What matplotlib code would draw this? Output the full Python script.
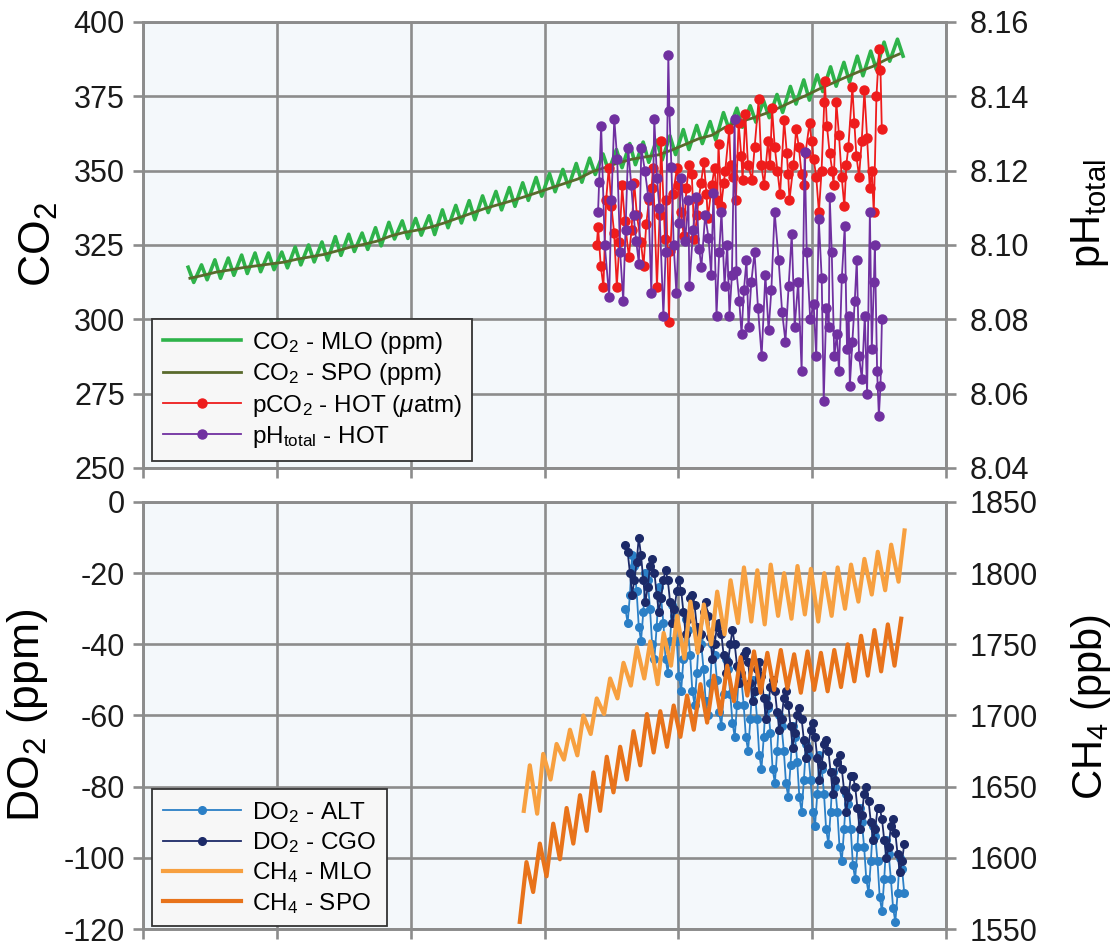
import matplotlib
matplotlib.use('Agg')
import matplotlib.pyplot as plt
import numpy as np

plt.rcParams['font.family'] = ['Liberation Sans', 'DejaVu Sans']
plt.rcParams['mathtext.fontset'] = 'custom'
plt.rcParams['mathtext.rm'] = 'Liberation Sans'
plt.rcParams['mathtext.it'] = 'Liberation Sans:italic'
plt.rcParams['mathtext.bf'] = 'Liberation Sans:bold'
plt.rcParams['axes.unicode_minus'] = False

# ---- CO2 Mauna Loa: yearly spring peak and autumn trough (ppm)
mlo_years = list(range(1958, 2012))
mlo_peak = [317.5, 318.3, 320.0, 320.6, 321.6, 322.3, 322.3, 322.6, 324.3, 325.0,
            326.0, 327.8, 328.6, 329.0, 330.8, 332.6, 333.1, 333.9, 334.8, 336.8,
            338.3, 339.9, 341.5, 343.0, 344.3, 345.9, 347.7, 349.0, 350.4, 352.4,
            354.2, 355.6, 357.1, 359.1, 359.6, 360.2, 361.7, 363.8, 365.2, 366.5,
            369.5, 371.0, 371.8, 373.5, 375.6, 378.3, 380.5, 382.2, 384.9, 386.4,
            388.5, 390.2, 393.2, 394.2]
mlo_trough = [312.4, 313.3, 313.8, 314.8, 315.4, 316.0, 316.7, 317.3, 318.3, 319.3,
              319.9, 321.5, 322.8, 323.5, 324.7, 327.0, 327.2, 328.3, 328.5, 330.8,
              332.4, 333.5, 335.9, 336.8, 338.0, 340.0, 341.4, 342.9, 344.5, 346.1,
              348.7, 349.9, 351.0, 352.0, 352.8, 353.6, 355.4, 357.1, 359.1, 360.3,
              363.9, 364.6, 366.3, 367.8, 369.6, 372.4, 373.7, 376.6, 378.4, 379.8,
              381.9, 384.0, 386.8, 388.5]

# ---- CO2 South Pole, yearly (ppm)
spo_years = list(range(1958, 2012))
spo_co2 = [313.8, 314.8, 315.9, 316.6, 317.4, 318.0, 318.6, 319.2, 320.2, 321.0,
           321.8, 323.0, 324.3, 325.2, 326.3, 328.0, 329.2, 330.0, 331.0, 332.4,
           334.0, 335.6, 337.2, 338.5, 339.8, 341.2, 342.7, 344.2, 345.7, 347.2,
           349.5, 351.0, 352.6, 353.8, 354.6, 355.3, 356.9, 358.8, 360.7, 361.9,
           364.6, 366.4, 367.6, 369.2, 371.1, 373.2, 375.2, 377.4, 379.4, 381.4,
           383.3, 385.0, 387.3, 389.2]

# ---- HOT seawater pCO2 (uatm)
hot_pco2_t = [1988.9, 1989.0, 1989.2, 1989.4, 1989.6, 1989.8, 1990.0, 1990.2, 1990.4, 1990.6,
              1990.8, 1991.0, 1991.3, 1991.5, 1991.7, 1991.9, 1992.2, 1992.4, 1992.6, 1992.8,
              1993.0, 1993.1, 1993.4, 1993.6, 1993.7, 1994.0, 1994.1, 1994.3, 1994.4, 1994.6,
              1994.9, 1995.0, 1995.2, 1995.4, 1995.6, 1995.8, 1996.0, 1996.2, 1996.4, 1996.5,
              1996.7, 1996.9, 1997.1, 1997.2, 1997.5, 1997.7, 1997.9, 1998.0, 1998.2, 1998.4,
              1998.5, 1998.8, 1998.9, 1999.1, 1999.3, 1999.5, 1999.7, 1999.8, 2000.0, 2000.2,
              2000.5, 2000.7, 2001.0, 2001.2, 2001.4, 2001.7, 2001.85, 2002.0, 2002.2, 2002.4,
              2002.6, 2002.9, 2003.1, 2003.2, 2003.3, 2003.6, 2003.8, 2004.0, 2004.2, 2004.4,
              2004.5, 2004.8, 2004.95, 2005.1, 2005.3, 2005.5, 2005.7, 2005.9, 2005.95, 2006.1,
              2006.3, 2006.5, 2006.6, 2006.8, 2007.0, 2007.2, 2007.4, 2007.55, 2007.7, 2008.0,
              2008.15, 2008.3, 2008.5, 2008.7, 2008.9, 2009.1, 2009.3, 2009.45, 2009.6, 2009.8,
              2010.0, 2010.1, 2010.2]
hot_pco2 = [325, 331, 318, 311, 340, 351, 338, 329, 311, 326,
            345, 333, 321, 330, 346, 335, 326, 318, 332, 340,
            344, 351, 311, 335, 360, 327, 340, 299, 323, 342,
            351, 345, 336, 328, 344, 352, 349, 327, 335, 340,
            346, 353, 342, 334, 345, 351, 340, 359, 338, 346,
            350, 364, 352, 348, 340, 366, 355, 347, 369, 352,
            347, 358, 374, 352, 345, 360, 352, 371, 358, 350,
            342, 367, 356, 349, 340, 352, 364, 358, 349, 345,
            356, 366, 360, 354, 348, 336, 350, 373, 380, 365,
            356, 350, 345, 373, 362, 348, 338, 352, 358, 378,
            366, 355, 348, 360, 377, 361, 344, 350, 336, 375,
            391, 384, 364]

# ---- HOT pH (total scale)
hot_ph_t = [1989.0, 1989.08, 1989.23, 1989.5, 1989.83, 1990.0, 1990.21, 1990.43, 1990.65, 1990.88,
            1991.05, 1991.25, 1991.48, 1991.65, 1991.85, 1992.05, 1992.23, 1992.5, 1992.75, 1992.98,
            1993.2, 1993.4, 1993.58, 1993.88, 1994.05, 1994.25, 1994.33, 1994.48, 1994.65, 1994.85,
            1995.05, 1995.22, 1995.5, 1995.75, 1995.82, 1996.1, 1996.35, 1996.55, 1996.72, 1997.0,
            1997.25, 1997.45, 1997.62, 1997.85, 1998.05, 1998.22, 1998.45, 1998.65, 1998.82, 1999.0,
            1999.2, 1999.34, 1999.55, 1999.72, 1999.9, 2000.09, 2000.24, 2000.45, 2000.69, 2000.95,
            2001.22, 2001.5, 2001.74, 2001.95, 2002.19, 2002.49, 2002.75, 2003.0, 2003.24, 2003.47,
            2003.69, 2003.95, 2004.21, 2004.44, 2004.59, 2004.85, 2005.11, 2005.3, 2005.49, 2005.71,
            2005.86, 2006.05, 2006.24, 2006.31, 2006.46, 2006.65, 2006.84, 2007.0, 2007.21, 2007.43,
            2007.6, 2007.73, 2007.81, 2008.0, 2008.18, 2008.33, 2008.5, 2008.71, 2008.93, 2009.1,
            2009.31, 2009.45, 2009.61, 2009.68, 2009.85, 2009.98, 2010.1, 2010.21]
hot_ph = [8.109, 8.117, 8.132, 8.100, 8.086, 8.112, 8.134, 8.123, 8.098, 8.085,
          8.104, 8.126, 8.116, 8.108, 8.101, 8.095, 8.126, 8.120, 8.113, 8.087,
          8.134, 8.118, 8.110, 8.081, 8.098, 8.151, 8.136, 8.121, 8.100, 8.087,
          8.106, 8.118, 8.101, 8.112, 8.089, 8.104, 8.113, 8.099, 8.094, 8.108,
          8.102, 8.092, 8.114, 8.081, 8.098, 8.109, 8.089, 8.100, 8.081, 8.092,
          8.134, 8.093, 8.085, 8.076, 8.088, 8.096, 8.078, 8.090, 8.098, 8.083,
          8.070, 8.092, 8.077, 8.088, 8.109, 8.096, 8.082, 8.074, 8.089, 8.103,
          8.078, 8.090, 8.066, 8.125, 8.098, 8.080, 8.084, 8.070, 8.107, 8.091,
          8.058, 8.083, 8.078, 8.113, 8.098, 8.070, 8.076, 8.066, 8.091, 8.105,
          8.072, 8.081, 8.062, 8.074, 8.085, 8.096, 8.070, 8.064, 8.081, 8.060,
          8.109, 8.072, 8.090, 8.100, 8.066, 8.054, 8.062, 8.080]

# ---- O2 change (ppm), six samples per year
do2_years = list(range(1991, 2012))
do2_cgo = [[-12, -14, -20, -26, -22, -17], [-10, -15, -22, -28, -24, -18],
           [-16, -20, -26, -31, -27, -22], [-19, -22, -28, -34, -30, -25],
           [-22, -25, -31, -37, -33, -27], [-26, -29, -35, -41, -37, -31],
           [-28, -32, -38, -44, -40, -35], [-34, -37, -43, -48, -45, -40],
           [-36, -40, -46, -51, -48, -43], [-42, -45, -51, -56, -53, -47],
           [-45, -49, -55, -61, -57, -52], [-50, -53, -59, -64, -61, -55],
           [-53, -57, -63, -69, -65, -60], [-58, -61, -67, -72, -69, -64],
           [-62, -66, -72, -78, -74, -68], [-67, -70, -76, -82, -78, -73],
           [-71, -75, -81, -87, -83, -77], [-77, -80, -86, -92, -88, -82],
           [-80, -84, -90, -95, -92, -86], [-86, -89, -95, -100, -97, -91],
           [-89, -93, -99, -104, -101, -96]]
do2_alt = [[-30, -34, -26, -15, -18, -25], [-35, -39, -31, -20, -22, -30],
           [-40, -44, -35, -24, -27, -34], [-44, -48, -39, -29, -32, -39],
           [-49, -53, -44, -33, -36, -43], [-53, -57, -48, -38, -40, -47],
           [-56, -60, -51, -40, -43, -50], [-59, -63, -54, -44, -47, -54],
           [-62, -66, -57, -47, -50, -57], [-66, -70, -61, -50, -53, -61],
           [-71, -75, -66, -55, -58, -65], [-75, -79, -70, -60, -63, -70],
           [-79, -83, -74, -63, -66, -73], [-83, -87, -78, -68, -71, -78],
           [-87, -91, -82, -71, -75, -82], [-92, -96, -87, -76, -80, -87],
           [-97, -101, -92, -82, -85, -92], [-102, -106, -97, -86, -90, -97],
           [-106, -110, -101, -91, -94, -101], [-111, -115, -106, -95, -99, -106],
           [-114, -118, -110, -100, -103, -110]]

# ---- CH4 (ppb): yearly [trough, peak]
ch4_years = list(range(1983, 2012))
ch4_mlo = [[1633, 1665], [1631, 1673], [1655, 1680], [1669, 1690], [1672, 1700], [1687, 1712],
           [1701, 1726], [1712, 1737], [1721, 1748], [1726, 1752], [1722, 1758], [1735, 1770],
           [1740, 1780], [1744, 1778], [1750, 1787], [1757, 1795], [1765, 1804], [1766, 1802],
           [1764, 1806], [1770, 1800], [1768, 1805], [1771, 1803], [1766, 1800], [1770, 1804],
           [1775, 1806], [1780, 1810], [1785, 1815], [1788, 1820], [1794, 1830]]
ch4_spo = [[1555, 1597], [1576, 1610], [1587, 1624], [1599, 1635], [1610, 1644], [1619, 1660],
           [1633, 1671], [1646, 1678], [1655, 1689], [1665, 1701], [1674, 1703], [1678, 1707],
           [1685, 1714], [1690, 1722], [1695, 1728], [1701, 1735], [1710, 1741], [1714, 1745],
           [1716, 1744], [1718, 1746], [1719, 1743], [1716, 1745], [1718, 1744], [1717, 1746],
           [1720, 1750], [1724, 1756], [1728, 1760], [1731, 1764], [1735, 1768]]

# sample times within each year
mlo_t = np.column_stack([np.array(mlo_years) + 0.37, np.array(mlo_years) + 0.79]).ravel()
mlo_v = np.column_stack([mlo_peak, mlo_trough]).ravel()
spo_t = np.array(spo_years) + 0.5
do2_t = (np.array(do2_years)[:, None] + np.array([0.04, 0.21, 0.38, 0.54, 0.71, 0.88])[None, :]).ravel()
ch4_mlo_t = (np.array(ch4_years)[:, None] + np.array([0.45, 0.9])[None, :]).ravel()
ch4_spo_t = (np.array(ch4_years)[:, None] + np.array([0.15, 0.65])[None, :]).ravel()

grid_c = '#8c8c8c'
face_c = '#f4f8fb'


def style(ax):
    ax.set_facecolor(face_c)
    ax.set_xlim(1955, 2015)
    ax.set_xticks(np.arange(1955, 2016, 10))
    ax.grid(True, color=grid_c, linewidth=1.9)
    for s in ax.spines.values():
        s.set_color(grid_c)
        s.set_linewidth(1.9)
    ax.tick_params(axis='both', direction='out', length=7, width=1.9, color=grid_c,
                   labelsize=22, labelcolor='#1a1a1a', pad=6, labelbottom=False)


def style_twin(ax):
    for s in ax.spines.values():
        s.set_color(grid_c)
        s.set_linewidth(1.9)
    ax.tick_params(axis='y', direction='out', length=7, width=1.9, color=grid_c,
                   labelsize=22, labelcolor='#1a1a1a', pad=10)


def add_legend(ax, handles, y0):
    leg = ax.legend(handles, [h.get_label() for h in handles],
                    loc='lower left', bbox_to_anchor=(0.011, y0), borderaxespad=0,
                    fontsize=17.5, fancybox=False, edgecolor='#333333', facecolor='#f7f7f7',
                    framealpha=1, handlelength=3.2, labelspacing=0.22, borderpad=0.45,
                    handletextpad=0.45)
    leg.get_frame().set_linewidth(1.3)


fig = plt.figure(figsize=(11.13, 9.5), dpi=100)
ax1 = fig.add_axes([0.1285, 0.5074, 0.7215, 0.4695])
ax3 = fig.add_axes([0.1285, 0.0221, 0.7215, 0.4495])

# top panel
style(ax1)
l1, = ax1.plot(mlo_t, mlo_v, color='#2eb34a', lw=2.6, label='CO$_2$ - MLO (ppm)')
l2, = ax1.plot(spo_t, spo_co2, color='#596a2c', lw=2.0, label='CO$_2$ - SPO (ppm)')
l3, = ax1.plot(hot_pco2_t, hot_pco2, color='#ee1c1c', lw=1.3, marker='o', ms=6.5,
               label='pCO$_2$ - HOT ($\\mu$atm)')
ax1.set_ylim(250, 400)
ax1.set_yticks(np.arange(250, 401, 25))
ax1.set_ylabel('CO$_2$', fontsize=32, labelpad=10)

ax2 = ax1.twinx()
style_twin(ax2)
l4, = ax2.plot(hot_ph_t, hot_ph, color='#7030a0', lw=1.3, marker='o', ms=6.5,
               label='pH$_{\\mathrm{total}}$ - HOT')
ax2.set_ylim(8.04, 8.16)
ax2.set_yticks(np.arange(8.04, 8.161, 0.02))
ax2.set_yticklabels(['%.2f' % v for v in np.arange(8.04, 8.161, 0.02)])
ax2.set_ylabel('pH$_{\\mathrm{total}}$', fontsize=30)
ax2.yaxis.set_label_coords(1.153, 0.57)
add_legend(ax2, [l1, l2, l3, l4], 0.016)

# bottom panel
style(ax3)
b1, = ax3.plot(do2_t, np.ravel(do2_alt), color='#2b7fc6', lw=1.3, marker='o', ms=5.5,
               label='DO$_2$ - ALT')
b2, = ax3.plot(do2_t, np.ravel(do2_cgo), color='#1c2a68', lw=1.3, marker='o', ms=5.5,
               label='DO$_2$ - CGO')
ax3.set_ylim(-120, 0)
ax3.set_yticks(np.arange(-120, 1, 20))
ax3.set_ylabel('DO$_2$ (ppm)', fontsize=32, labelpad=10)

ax4 = ax3.twinx()
style_twin(ax4)
b3, = ax4.plot(ch4_mlo_t, np.ravel(ch4_mlo), color='#f7a040', lw=3.0, label='CH$_4$ - MLO')
b4, = ax4.plot(ch4_spo_t, np.ravel(ch4_spo), color='#e8731b', lw=3.0, label='CH$_4$ - SPO')
ax4.set_ylim(1550, 1850)
ax4.set_yticks(np.arange(1550, 1851, 50))
ax4.set_ylabel('CH$_4$ (ppb)', fontsize=30)
ax4.yaxis.set_label_coords(1.153, 0.52)
add_legend(ax4, [b1, b2, b3, b4], 0.006)

fig.savefig('out.png', dpi=100)
